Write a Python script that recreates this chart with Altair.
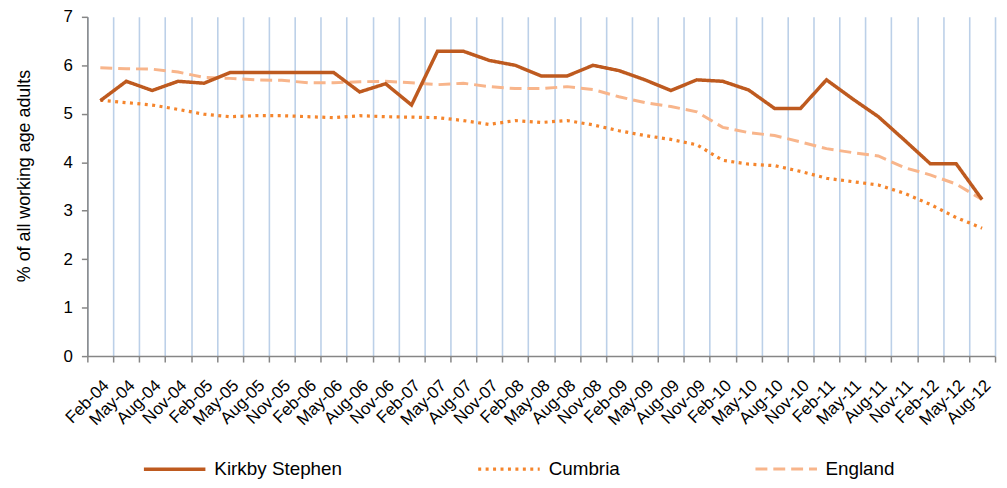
import altair as alt
import pandas as pd

months = [
    "Feb-04", "May-04", "Aug-04", "Nov-04",
    "Feb-05", "May-05", "Aug-05", "Nov-05",
    "Feb-06", "May-06", "Aug-06", "Nov-06",
    "Feb-07", "May-07", "Aug-07", "Nov-07",
    "Feb-08", "May-08", "Aug-08", "Nov-08",
    "Feb-09", "May-09", "Aug-09", "Nov-09",
    "Feb-10", "May-10", "Aug-10", "Nov-10",
    "Feb-11", "May-11", "Aug-11", "Nov-11",
    "Feb-12", "May-12", "Aug-12",
]

kirkby = [5.27, 5.67, 5.48, 5.67, 5.63, 5.85, 5.85, 5.85, 5.85, 5.85,
          5.45, 5.62, 5.18, 6.29, 6.29, 6.10, 6.00, 5.78, 5.78, 6.00,
          5.89, 5.70, 5.48, 5.70, 5.67, 5.49, 5.11, 5.11, 5.70, 5.31,
          4.94, 4.46, 3.97, 3.97, 3.23]

cumbria = [5.28, 5.23, 5.18, 5.09, 4.99, 4.94, 4.96, 4.96, 4.94, 4.92,
           4.96, 4.94, 4.93, 4.92, 4.86, 4.78, 4.86, 4.82, 4.86, 4.77,
           4.65, 4.55, 4.47, 4.36, 4.04, 3.96, 3.93, 3.81, 3.67, 3.60,
           3.53, 3.36, 3.13, 2.86, 2.64]

england = [5.95, 5.93, 5.92, 5.86, 5.75, 5.73, 5.70, 5.69, 5.64, 5.64,
           5.66, 5.67, 5.64, 5.60, 5.63, 5.56, 5.52, 5.52, 5.56, 5.50,
           5.35, 5.23, 5.15, 5.04, 4.72, 4.61, 4.55, 4.42, 4.28, 4.20,
           4.13, 3.89, 3.74, 3.55, 3.23]

series_names = ["Kirkby Stephen", "Cumbria", "England"]
series_colors = ["#BE5A1F", "#F5852C", "#F8B58B"]
series_dash = [[1, 0], [3, 4.5], [12, 6]]
series_width = [3.5, 3, 4.5]
y_ticks = [0, 1, 2, 3, 4, 5, 6, 7]

rows = []
for name, vals in zip(series_names, [kirkby, cumbria, england]):
    for m, v in zip(months, vals):
        rows.append({"month": m, "series": name, "value": v})
df = pd.DataFrame(rows)

FONT = "Liberation Sans"

x_enc = alt.X(
    "month:O",
    sort=months,
    bandPosition=0.5,
    scale=alt.Scale(type="band", paddingInner=0, paddingOuter=0),
    axis=alt.Axis(
        title=None,
        labelAngle=-45,
        tickBand="extent",
        grid=True,
        gridColor="#BCD0E8",
        gridWidth=1.6,
        tickSize=6,
        labelPadding=15,
        labelFontSize=17,
    ),
)

y_enc = alt.Y(
    "value:Q",
    scale=alt.Scale(domain=[0, 7], nice=False),
    axis=alt.Axis(
        values=y_ticks,
        grid=False,
        tickSize=6,
        labelPadding=9,
        labelFontSize=17,
        title="% of all working age adults",
        titleFontSize=18,
        titleFontWeight="normal",
        titleX=-63,
        titleY=160,
        titleAlign="center",
        titleBaseline="middle",
    ),
)

legend = alt.Legend(
    title=None,
    orient="none",
    legendX=55,
    legendY=423,
    direction="horizontal",
    symbolType="stroke",
    symbolSize=3844,
    labelFontSize=19,
    labelFont=FONT,
    labelOffset=7,
    columnPadding=130,
)

color_enc = alt.Color(
    "series:N",
    scale=alt.Scale(domain=series_names, range=series_colors),
    legend=legend,
)
dash_enc = alt.StrokeDash(
    "series:N",
    scale=alt.Scale(domain=series_names, range=series_dash),
    legend=legend,
)
width_enc = alt.StrokeWidth(
    "series:N",
    scale=alt.Scale(domain=series_names, range=series_width),
    legend=legend,
)

layers = []
for name in ["England", "Cumbria", "Kirkby Stephen"]:
    layers.append(
        alt.Chart(df)
        .transform_filter(alt.datum.series == name)
        .mark_line()
        .encode(x=x_enc, y=y_enc, color=color_enc, strokeDash=dash_enc, strokeWidth=width_enc)
    )

chart = (
    alt.layer(*layers)
    .properties(
        width=915,
        height=342,
        autosize=alt.AutoSizeParams(type="none"),
        padding={"left": 80, "top": 7, "right": 4, "bottom": 123},
    )
    .configure_view(stroke=None)
    .configure_axis(
        labelFont=FONT,
        titleFont=FONT,
        labelColor="#000000",
        titleColor="#000000",
        domainColor="#868686",
        tickColor="#868686",
        domainWidth=1.5,
        tickWidth=1.5,
    )
)

chart.save("out.html", embed_options={"renderer": "svg", "actions": False})
